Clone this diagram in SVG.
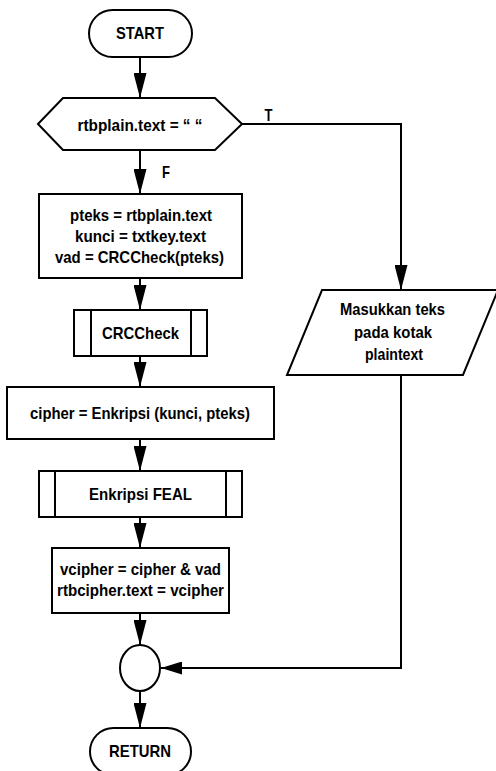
<svg xmlns="http://www.w3.org/2000/svg" width="496" height="771" viewBox="0 0 496 771">
  <style>
    .shape { fill: #ffffff; stroke: #000000; stroke-width: 2; }
    .line { fill: none; stroke: #000000; stroke-width: 2; }
    .lbl { font-family: "Liberation Sans", Arial, sans-serif; font-size: 17px; font-weight: bold; fill: #000000; text-anchor: middle; }
  </style>
  <defs>
    <marker id="arrow" markerUnits="userSpaceOnUse" markerWidth="25" markerHeight="13" refX="25" refY="6.5" orient="auto">
      <path d="M0,0 L25,6.5 L0,13 z" fill="#000000"/>
    </marker>
    <marker id="arrowShort" markerUnits="userSpaceOnUse" markerWidth="21" markerHeight="13" refX="21" refY="6.5" orient="auto">
      <path d="M0,0 L21,6.5 L0,13 z" fill="#000000"/>
    </marker>
  </defs>

  <rect width="496" height="771" fill="#ffffff"/>

  <!-- connectors -->
  <g id="connectors">
    <line class="line" x1="140" y1="57" x2="140" y2="98" marker-end="url(#arrow)"/>
    <line class="line" x1="140" y1="150" x2="140" y2="194" marker-end="url(#arrow)"/>
    <polyline class="line" points="242,124 401,124 401,290" marker-end="url(#arrow)"/>
    <line class="line" x1="140" y1="278" x2="140" y2="310" marker-end="url(#arrow)"/>
    <line class="line" x1="140" y1="356" x2="140" y2="387" marker-end="url(#arrow)"/>
    <line class="line" x1="140" y1="439" x2="140" y2="471" marker-end="url(#arrow)"/>
    <line class="line" x1="140" y1="517" x2="140" y2="548" marker-end="url(#arrow)"/>
    <line class="line" x1="140" y1="613" x2="140" y2="645" marker-end="url(#arrow)"/>
    <polyline class="line" points="401,375 401,668 161,668" marker-end="url(#arrowShort)"/>
    <line class="line" x1="140" y1="691" x2="140" y2="728" marker-end="url(#arrow)"/>
    <text class="lbl" x="268.5" y="121" textLength="8" lengthAdjust="spacingAndGlyphs">T</text>
    <text class="lbl" x="166" y="178" textLength="8" lengthAdjust="spacingAndGlyphs">F</text>
  </g>

  <g id="start">
    <rect class="shape" x="89" y="10" width="103" height="47" rx="23.5" ry="23.5"/>
    <text class="lbl" x="140" y="39" textLength="48" lengthAdjust="spacingAndGlyphs">START</text>
  </g>

  <g id="decision">
    <polygon class="shape" points="38,124 63,98 215,98 242,124 215,150 63,150"/>
    <text class="lbl" x="140" y="131" textLength="125" lengthAdjust="spacingAndGlyphs">rtbplain.text = “ “</text>
  </g>

  <g id="assign-input">
    <rect class="shape" x="39" y="194" width="203" height="84"/>
    <text class="lbl" x="141" y="221" textLength="142" lengthAdjust="spacingAndGlyphs">pteks = rtbplain.text</text>
    <text class="lbl" x="140.5" y="242" textLength="131" lengthAdjust="spacingAndGlyphs">kunci = txtkey.text</text>
    <text class="lbl" x="139.5" y="263" textLength="169" lengthAdjust="spacingAndGlyphs">vad = CRCCheck(pteks)</text>
  </g>

  <g id="crccheck">
    <rect class="shape" x="74" y="310" width="133" height="46"/>
    <line class="line" x1="91" y1="310" x2="91" y2="356"/>
    <line class="line" x1="191" y1="310" x2="191" y2="356"/>
    <text class="lbl" x="140.5" y="339" textLength="77" lengthAdjust="spacingAndGlyphs">CRCCheck</text>
  </g>

  <g id="encrypt-call">
    <rect class="shape" x="7" y="387" width="267" height="52"/>
    <text class="lbl" x="140" y="419" textLength="220" lengthAdjust="spacingAndGlyphs">cipher = Enkripsi (kunci, pteks)</text>
  </g>

  <g id="feal">
    <rect class="shape" x="39" y="471" width="203" height="46"/>
    <line class="line" x1="55" y1="471" x2="55" y2="517"/>
    <line class="line" x1="226" y1="471" x2="226" y2="517"/>
    <text class="lbl" x="140.5" y="500" textLength="103" lengthAdjust="spacingAndGlyphs">Enkripsi FEAL</text>
  </g>

  <g id="assign-output">
    <rect class="shape" x="52" y="548" width="177" height="65"/>
    <text class="lbl" x="140.5" y="575" textLength="161" lengthAdjust="spacingAndGlyphs">vcipher = cipher &amp; vad</text>
    <text class="lbl" x="140.5" y="596" textLength="167" lengthAdjust="spacingAndGlyphs">rtbcipher.text = vcipher</text>
  </g>

  <g id="message">
    <polygon class="shape" points="322,290 498,290 463,375 287,375"/>
    <text class="lbl" x="392.5" y="315" textLength="105" lengthAdjust="spacingAndGlyphs">Masukkan teks</text>
    <text class="lbl" x="393" y="338" textLength="78" lengthAdjust="spacingAndGlyphs">pada kotak</text>
    <text class="lbl" x="394" y="360" textLength="58" lengthAdjust="spacingAndGlyphs">plaintext</text>
  </g>

  <g id="join">
    <ellipse class="shape" cx="140" cy="668" rx="20" ry="23"/>
  </g>

  <g id="return">
    <rect class="shape" x="90" y="728" width="101" height="47" rx="23.5" ry="23.5"/>
    <text class="lbl" x="140" y="757" textLength="62" lengthAdjust="spacingAndGlyphs">RETURN</text>
  </g>
</svg>
